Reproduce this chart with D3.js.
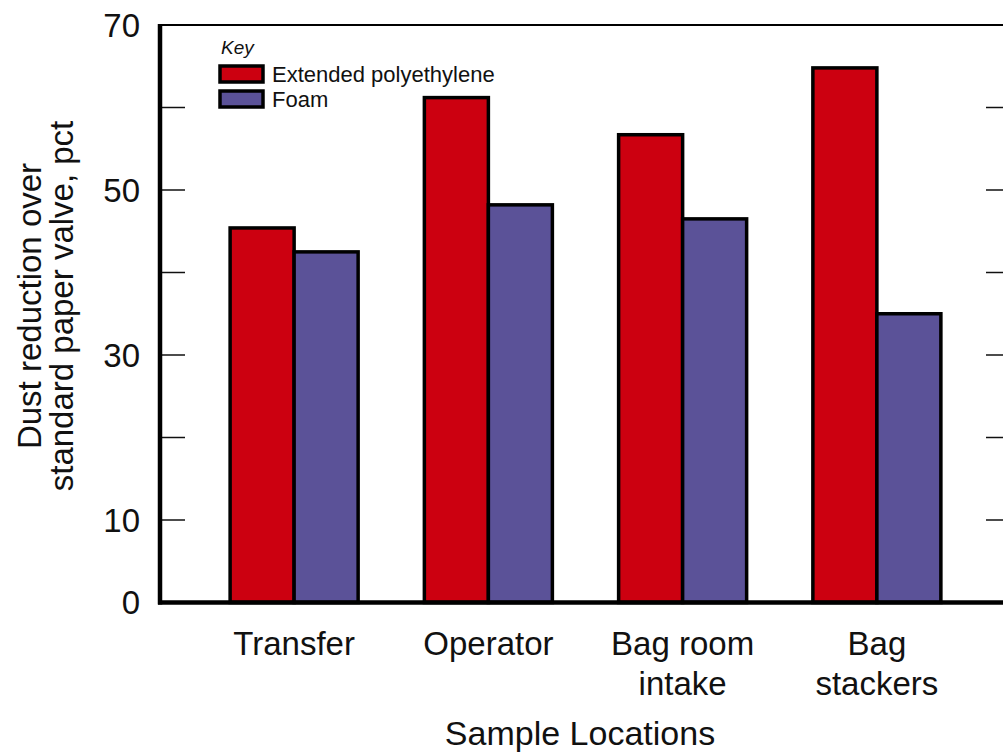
<!DOCTYPE html>
<html>
<head>
<meta charset="utf-8">
<script src="https://cdn.jsdelivr.net/npm/d3@7"></script>
<style>
  body { margin: 0; background: #fff; }
  svg { display: block; }
  text { font-family: "Liberation Sans", Arial, sans-serif; fill: #111; }
</style>
</head>
<body>
<svg id="chart" width="1003" height="755"></svg>
<script>
const categories = [["Transfer"], ["Operator"], ["Bag room", "intake"], ["Bag", "stackers"]];
const seriesNames = ["Extended polyethylene", "Foam"];
const polyethylene = [45.4, 61.2, 56.7, 64.8];
const foam = [42.5, 48.2, 46.5, 35.0];
const yTickLabels = [0, 10, 30, 50, 70];
const yTicksAll = [0, 10, 20, 30, 40, 50, 60, 70];
const colors = ["#cc0010", "#5b5298"];

(function () {
const svg = d3.select("#chart");
const pLeft = 160, pRight = 1030, pTop = 25, pBottom = 602.5;
const catKeys = categories.map(c => c.join(" "));

const y = d3.scaleLinear().domain([0, 70]).range([pBottom, pTop]);
const x = d3.scaleBand().domain(catKeys).range([197, 974]).paddingInner(0.341).paddingOuter(0.1705);
const xs = d3.scaleBand().domain(seriesNames).range([0, x.bandwidth()]);

// frame top line
svg.append("line").attr("x1", pLeft).attr("x2", pRight).attr("y1", y(70)).attr("y2", y(70))
  .attr("stroke", "#000").attr("stroke-width", 2);

const inner = yTicksAll.filter(v => v > 0 && v < 70);
// inner ticks left
svg.append("g").selectAll("line").data(inner).join("line")
  .attr("x1", pLeft).attr("x2", pLeft + 25).attr("y1", d => y(d)).attr("y2", d => y(d))
  .attr("stroke", "#111").attr("stroke-width", 1.5);
// inner ticks right
svg.append("g").selectAll("line").data(inner).join("line")
  .attr("x1", 986).attr("x2", 1003).attr("y1", d => y(d)).attr("y2", d => y(d))
  .attr("stroke", "#111").attr("stroke-width", 1.5);

// bars
const data = [polyethylene, foam];
catKeys.forEach((k, i) => {
  seriesNames.forEach((s, j) => {
    const v = data[j][i];
    svg.append("rect")
      .attr("x", x(k) + xs(s))
      .attr("y", y(v))
      .attr("width", xs.bandwidth())
      .attr("height", y(0) - y(v))
      .attr("fill", colors[j])
      .attr("stroke", "#000")
      .attr("stroke-width", 3.5);
  });
});

// axes lines
svg.append("line").attr("x1", pLeft).attr("x2", pLeft).attr("y1", y(70) - 1).attr("y2", pBottom + 2)
  .attr("stroke", "#000").attr("stroke-width", 4.5);
svg.append("line").attr("x1", pLeft - 2).attr("x2", pRight).attr("y1", pBottom).attr("y2", pBottom)
  .attr("stroke", "#000").attr("stroke-width", 4.5);

// y tick labels
svg.append("g").selectAll("text").data(yTickLabels).join("text")
  .attr("x", 140).attr("y", d => y(d)).attr("dy", "0.36em")
  .attr("text-anchor", "end").attr("font-size", 33).text(d => d);

// y title
const yt = svg.append("text").attr("transform", "translate(0,306) rotate(-90)")
  .attr("text-anchor", "middle").attr("font-size", 33);
yt.append("tspan").attr("x", 0).attr("y", 41).text("Dust reduction over");
yt.append("tspan").attr("x", 0).attr("y", 73).text("standard paper valve, pct");

// x labels
categories.forEach((c, i) => {
  const t = svg.append("text").attr("text-anchor", "middle").attr("font-size", 33)
    .attr("transform", `translate(${x(catKeys[i]) + x.bandwidth() / 2},0)`);
  c.forEach((line, li) => {
    t.append("tspan").attr("x", 0).attr("y", 655 + li * 40).text(line);
  });
});

// x title
svg.append("text").attr("x", 580).attr("y", 745).attr("text-anchor", "middle")
  .attr("font-size", 34).text("Sample Locations");

// legend
svg.append("text").attr("x", 221).attr("y", 54).attr("font-size", 19)
  .attr("font-style", "italic").text("Key");
seriesNames.forEach((s, j) => {
  svg.append("rect").attr("x", 220).attr("y", 66 + j * 25).attr("width", 43).attr("height", 16)
    .attr("fill", colors[j]).attr("stroke", "#000").attr("stroke-width", 3.5);
  svg.append("text").attr("x", 272).attr("y", 82 + j * 25).attr("font-size", 22).text(s);
});
})();
</script>
</body>
</html>
